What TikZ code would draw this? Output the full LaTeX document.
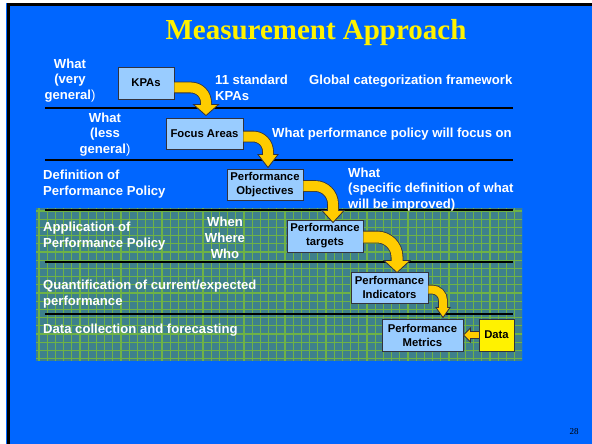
\documentclass[tikz,border=0pt]{standalone}
\usepackage{fontspec}
\setmainfont{Liberation Sans}
\newfontfamily\titlefont{Liberation Serif}
\definecolor{slideblue}{RGB}{0,102,255}
\definecolor{boxblue}{RGB}{153,204,255}
\definecolor{arrgold}{RGB}{255,204,0}
\definecolor{texbase}{RGB}{62,128,140}
\definecolor{texgrid}{RGB}{110,178,70}
\definecolor{edgegray}{RGB}{50,50,60}
\newcommand\boxfont{\fontsize{11.3}{14}\selectfont\bfseries}
\newcommand\lblfont{\fontsize{13.1}{15.8}\selectfont\bfseries}
\newcommand\bentarrow[6]{%
  \coordinate (ba-s) at (#1);
  \coordinate (ba-t) at (#2);
  \coordinate (ba-b) at ([yshift=#5pt]ba-t);
  \pgfmathsetmacro\baouter{#3+1.6}
  \draw[draw=edgegray, line width=\baouter pt, rounded corners=#6pt] (ba-s) -| (ba-b);
  \filldraw[fill=arrgold, draw=edgegray, line width=0.8pt] ([xshift=-#4pt]ba-b) -- (ba-t) -- ([xshift=#4pt]ba-b) -- cycle;
  \draw[draw=arrgold, line width=#3pt, rounded corners=#6pt] (ba-s) -| ([yshift=-0.7pt]ba-b);
}
\tikzset{
  pbox/.style={draw=edgegray, line width=0.9pt, fill=boxblue, inner sep=0pt, align=center, font=\boxfont, text=black},
  lbl/.style={text=white, inner sep=0pt, font=\lblfont},
  sep/.style={line width=2pt, draw=black}
}
\begin{document}
\begin{tikzpicture}[x=1pt,y=-1pt]
\fill[white] (0,0) rectangle (592,444);
\useasboundingbox (0,0) rectangle (592,444);
\fill[slideblue] (6,3) rectangle (592,444);
\fill[black] (7,3) rectangle (592,5.6);
\fill[black] (7,3) rectangle (9.5,444);
% textured band
\fill[texbase] (36,208) rectangle (522,361);
\begin{scope}
  \clip (36,208) rectangle (522,361);
  \foreach \x in {39,47.2,...,525} \draw[texgrid, line width=1.1pt] (\x,208) -- (\x,361);
  \foreach \y in {211,219.2,...,365} \draw[texgrid, line width=1.1pt] (36,\y) -- (522,\y);
\end{scope}
% title
\node[anchor=base, text=yellow, inner sep=0pt, font=\titlefont\fontsize{29}{34}\selectfont\bfseries] (title) at (316,40) {Measurement Approach};
% separators
\foreach \y in {108,160,210,262,314} \draw[sep] (45,\y) -- (513,\y);
% boxes
\node[pbox, minimum width=56pt, minimum height=32pt] (kpa) at (146,83) {KPAs};
\node[pbox, minimum width=77pt, minimum height=31pt] (focus) at (204.5,133.5) {Focus Areas};
\node[pbox, minimum width=76pt, minimum height=31pt] (obj) at (265,184.5) {Performance\\Objectives};
\node[pbox, minimum width=76pt, minimum height=32pt] (targ) at (325,236) {Performance\\targets};
\node[pbox, minimum width=77pt, minimum height=31pt] (ind) at (389.5,287.5) {Performance\\Indicators};
\node[pbox, minimum width=81pt, minimum height=32pt] (met) at (422.5,335) {Performance\\Metrics};
\node[pbox, fill=yellow, minimum width=35pt, minimum height=32pt] (data) at (496.5,335) {Data};
% labels
\node[lbl, align=center] (l1) at (70,80.5) {What\\(very\\general{\mdseries )}};
\node[lbl, align=left, anchor=west] (l2) at (215,87.5) {11 standard\\KPAs};
\node[lbl, anchor=west] (l3) at (309,81) {Global categorization framework};
\node[lbl, align=center] (l4) at (105,134.5) {What\\(less\\general{\mdseries )}};
\node[lbl, anchor=west] (l5) at (272,134) {What performance policy will focus on};
\node[lbl, align=left, anchor=west] (l6) at (43,184.5) {Definition of\\Performance Policy};
\node[lbl, align=left, anchor=west] (l7) at (348,189.5) {What\\(specific definition of what\\will be improved)};
\node[lbl, align=left, anchor=west] (l8) at (43,236) {Application of\\Performance Policy};
\node[lbl, align=center] (l9) at (225,238) {When\\Where\\Who};
\node[lbl, align=left, anchor=west] (l10) at (43,294) {Quantification of current/expected\\performance};
\node[lbl, anchor=west] (l11) at (43,330) {Data collection and forecasting};
\node[inner sep=0pt, font=\titlefont\fontsize{9}{10}\selectfont] (pg) at (574,432) {28};
% arrows
\bentarrow{[yshift=-4.5pt]kpa.east}{[xshift=1.5pt,yshift=2pt]focus.north}{10}{12.5}{11}{15}
\bentarrow{[yshift=-3pt]focus.east}{[xshift=3pt,yshift=1pt]obj.north}{10}{10}{13}{15}
\bentarrow{[yshift=-1.5pt]obj.east}{[xshift=8pt,yshift=-3pt]targ.north}{10}{11}{12}{18}
\bentarrow{[yshift=-1pt]targ.east}{[xshift=7.5pt,yshift=-1pt]ind.north}{11}{13}{12}{20}
\bentarrow{[yshift=-2pt]ind.east}{[xshift=20.5pt,yshift=1pt]met.north}{8}{7}{10}{11}
% data arrow
\coordinate (da-b) at ([xshift=7pt]met.east);
\draw[draw=edgegray, line width=7.6pt] (data.west) -- (da-b);
\filldraw[fill=arrgold, draw=edgegray, line width=0.8pt] ([yshift=7pt]da-b) -- (met.east) -- ([yshift=-7pt]da-b) -- cycle;
\draw[draw=arrgold, line width=6pt] (data.west) -- ([xshift=-0.7pt]da-b);
\end{tikzpicture}
\end{document}
